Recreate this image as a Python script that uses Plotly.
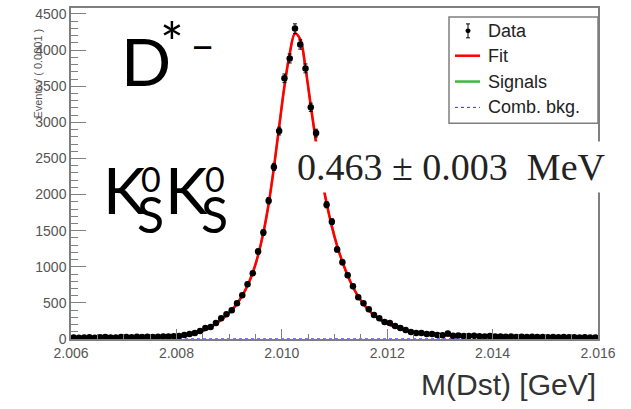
import plotly.graph_objects as go

# ---------------- data ----------------
bin_lo = 2.006
bin_w = 0.0001
data_vals = [20, 18, 22, 25, 19, 24, 27, 22, 21, 26,
             28, 24, 30, 27, 32, 29, 31, 35, 33, 38,
             41, 55, 69, 83, 110, 152, 165, 220, 289, 344,
             399, 496, 606, 758, 909, 1212, 1474, 1915, 2383, 2879,
             3609, 3884, 4298, 4077, 3747, 3209, 2851, 2340, 1860, 1625,
             1240, 1061, 882, 730, 579, 496, 413, 331, 289, 234,
             220, 179, 152, 124, 96, 83, 83, 69, 69, 55,
             52, 75, 45, 48, 42, 40, 44, 38, 36, 40,
             34, 35, 30, 33, 29, 31, 27, 30, 26, 28,
             25, 27, 24, 26, 23, 25, 22, 24, 21, 22]
fit_vals = [18, 19, 20, 21, 22, 23, 24, 25, 26, 27,
            28, 29, 30, 31, 32, 33, 35, 37, 39, 42,
            46, 52, 62, 78, 100, 128, 165, 212, 268, 330,
            400, 490, 600, 740, 920, 1160, 1470, 1870, 2370, 2940,
            3500, 3950, 4230, 4150, 3750, 3230, 2720, 2270, 1880, 1560,
            1290, 1070, 880, 720, 590, 485, 400, 330, 275, 230,
            195, 165, 140, 120, 104, 90, 80, 71, 64, 58,
            54, 50, 47, 44, 42, 40, 38, 36, 35, 34,
            33, 32, 31, 30, 29, 28.5, 28, 27.5, 27, 26.5,
            26, 25.5, 25, 24.5, 24, 23.5, 23, 22.5, 22, 22]
bkg_x = [2.006, 2.016]
bkg_vals = [2, 2]
x_ticks = [2.006, 2.008, 2.010, 2.012, 2.014, 2.016]
y_ticks = [0, 500, 1000, 1500, 2000, 2500, 3000, 3500, 4000, 4500]

centers = [bin_lo + bin_w * (i + 0.5) for i in range(len(data_vals))]
errors = [v ** 0.5 for v in data_vals]
sig_vals = [f - bkg_vals[0] for f in fit_vals]

# ---------------- layout geometry ----------------
W, H = 631, 409
L, R, T, B = 71, 33, 6, 70
PW, PH = W - L - R, H - T - B


def px(x):
    return (x - L) / PW


def py(y):
    return (H - B - y) / PH


fig = go.Figure()
fig.add_trace(go.Scatter(x=centers, y=sig_vals, mode="lines",
                         line=dict(color="#3cb83c", width=2), line_shape="spline",
                         hoverinfo="skip"))
fig.add_trace(go.Scatter(x=centers, y=fit_vals, mode="lines",
                         line=dict(color="#ff0000", width=2.6), line_shape="spline"))
fig.add_trace(go.Scatter(x=bkg_x, y=bkg_vals, mode="lines",
                         line=dict(color="#3030ff", width=1, dash="dot")))
fig.add_trace(go.Scatter(x=centers, y=data_vals, mode="markers",
                         marker=dict(color="black", size=6.5),
                         error_y=dict(type="data", array=errors, color="black",
                                      thickness=1, width=2)))

tickfont = dict(family="Liberation Sans, Arial", size=14, color="#555")
fig.update_layout(
    width=W, height=H, margin=dict(l=L, r=R, t=T, b=B),
    paper_bgcolor="white", plot_bgcolor="white", showlegend=False,
    xaxis=dict(range=[2.006, 2.016], tickvals=x_ticks,
               ticktext=[f"{v:.3f}" for v in x_ticks], tickfont=tickfont,
               ticks="inside", ticklen=10, tickcolor="#7f7f7f", tickwidth=1,
               minor=dict(dtick=0.0005, tick0=2.006, ticks="inside", ticklen=5,
                          tickcolor="#7f7f7f"),
               showline=True, mirror=True, linecolor="#7f7f7f", linewidth=1.5,
               showgrid=False, zeroline=False),
    yaxis=dict(range=[0, 4583], tickvals=y_ticks, tickfont=tickfont,
               ticks="inside", ticklen=15, tickcolor="#7f7f7f", tickwidth=1,
               minor=dict(dtick=100, tick0=0, ticks="inside", ticklen=7,
                          tickcolor="#7f7f7f"),
               showline=True, mirror=True, linecolor="#7f7f7f", linewidth=1.5,
               showgrid=False, zeroline=False),
)

ann = []
# y-axis title
ann.append(dict(text="Events / ( 0.0001 )", x=px(38), y=py(72), xref="paper", yref="paper",
                textangle=-90, showarrow=False, xanchor="center", yanchor="middle",
                font=dict(family="Liberation Sans, Arial", size=11, color="#555")))
# x-axis title
ann.append(dict(text="M(Dst) [GeV]", x=px(598), y=py(385), xref="paper", yref="paper",
                showarrow=False, xanchor="right", yanchor="middle",
                font=dict(family="Liberation Sans, Arial", size=30, color="#333")))
# width annotation
ann.append(dict(text="0.463 ± 0.003 &nbsp;MeV", x=px(292), y=py(166), xref="paper", yref="paper",
                showarrow=False, xanchor="left", yanchor="middle", bgcolor="white",
                borderpad=4,
                font=dict(family="Liberation Serif, Times New Roman", size=38, color="#222")))
# big labels
big = "Lato, Noto Sans, sans-serif"
ann.append(dict(text="D", x=px(146), y=py(59), xref="paper", yref="paper",
                showarrow=False, xanchor="center", yanchor="middle",
                font=dict(family=big, size=66, color="black")))
ann.append(dict(text="*", x=px(172), y=py(40), xref="paper", yref="paper",
                showarrow=False, xanchor="center", yanchor="middle",
                font=dict(family=big, size=56, color="black")))
ann.append(dict(text="−", x=px(202), y=py(44), xref="paper", yref="paper",
                showarrow=False, xanchor="center", yanchor="middle",
                font=dict(family=big, size=40, color="black")))
for kx, zx, sx in [(124, 151, 150), (186, 215, 214)]:
    ann.append(dict(text="K", x=px(kx), y=py(189), xref="paper", yref="paper",
                    showarrow=False, xanchor="center", yanchor="middle",
                    font=dict(family=big, size=64, color="black")))
    ann.append(dict(text="0", x=px(zx), y=py(178), xref="paper", yref="paper",
                    showarrow=False, xanchor="center", yanchor="middle",
                    font=dict(family=big, size=34, color="black")))
    ann.append(dict(text="S", x=px(sx), y=py(213), xref="paper", yref="paper",
                    showarrow=False, xanchor="center", yanchor="middle",
                    font=dict(family=big, size=50, color="black")))

# legend (ROOT style box)
lfont = dict(family="Liberation Sans, Arial", size=18, color="#222")
rows = [("Data", 29), ("Fit", 54), ("Signals", 80), ("Comb. bkg.", 106)]
for label, yy in rows:
    ann.append(dict(text=label, x=px(486), y=py(yy), xref="paper", yref="paper",
                    showarrow=False, xanchor="left", yanchor="middle", font=lfont))
shapes = [
    dict(type="rect", xref="paper", yref="paper", x0=px(449), x1=px(598), y0=py(122), y1=py(15),
         line=dict(color="#7f7f7f", width=1.5), fillcolor="white", layer="above"),
    dict(type="line", xref="paper", yref="paper", x0=px(468), x1=px(468), y0=py(36), y1=py(22),
         line=dict(color="black", width=1)),
    dict(type="line", xref="paper", yref="paper", x0=px(466), x1=px(470), y0=py(22), y1=py(22),
         line=dict(color="black", width=1)),
    dict(type="line", xref="paper", yref="paper", x0=px(466), x1=px(470), y0=py(36), y1=py(36),
         line=dict(color="black", width=1)),
    dict(type="circle", xref="paper", yref="paper", x0=px(465.5), x1=px(470.5), y0=py(31.5), y1=py(26.5),
         line=dict(color="black", width=0), fillcolor="black"),
    dict(type="line", xref="paper", yref="paper", x0=px(455), x1=px(480), y0=py(54), y1=py(54),
         line=dict(color="#ff0000", width=2.5)),
    dict(type="line", xref="paper", yref="paper", x0=px(455), x1=px(480), y0=py(80), y1=py(80),
         line=dict(color="#3cb83c", width=2.5)),
    dict(type="line", xref="paper", yref="paper", x0=px(455), x1=px(480), y0=py(106), y1=py(106),
         line=dict(color="#3030ff", width=1, dash="dot")),
]
fig.update_layout(annotations=ann, shapes=shapes)
fig.write_html("out.html", config={"displayModeBar": False},
               post_script="document.body.style.margin='0';")
